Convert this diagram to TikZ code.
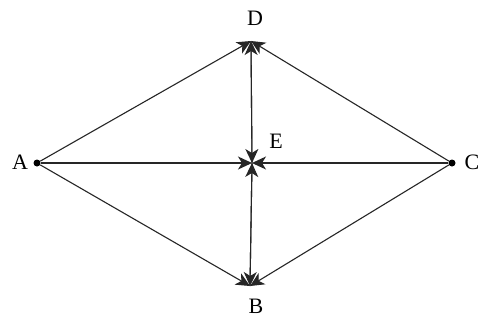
\documentclass[tikz,border=0pt]{standalone}
\usepackage{fontspec}
\setmainfont{Liberation Serif}
\usetikzlibrary{arrows.meta}
\begin{document}
\begin{tikzpicture}[x=1pt,y=-1pt,
  edge/.style={draw=black!85,line width=1.1pt,-{Stealth[length=14pt,width=13pt,inset=4pt]}},
  lbl/.style={font=\fontsize{22}{26}\selectfont,inner sep=0pt},
  pt/.style={circle,fill=black,inner sep=0pt,minimum size=7pt}]
\useasboundingbox (0,0) rectangle (482,322);
\fill[white] (0,0) rectangle (482,322);
\node[pt] (A) at (37,163) {};
\node[pt] (C) at (452,163) {};
\coordinate (D) at (251,41);
\coordinate (E) at (252,163);
\coordinate (B) at (250,286);
\node[lbl] (la) at (20,162) {A};
\node[lbl] (lc) at (472,162) {C};
\node[lbl] (ld) at (255,18) {D};
\node[lbl] (le) at (276,141) {E};
\node[lbl] (lb) at (256,306) {B};
\draw[edge] (A) -- (D);
\draw[edge] (C) -- (D);
\draw[edge] (E) -- (D);
\draw[edge] (A) -- (B);
\draw[edge] (C) -- (B);
\draw[edge] (E) -- (B);
\draw[edge] (A) -- (E);
\draw[edge] (C) -- (E);
\draw[edge] (D) -- (E);
\draw[edge] (B) -- (E);
\end{tikzpicture}
\end{document}
